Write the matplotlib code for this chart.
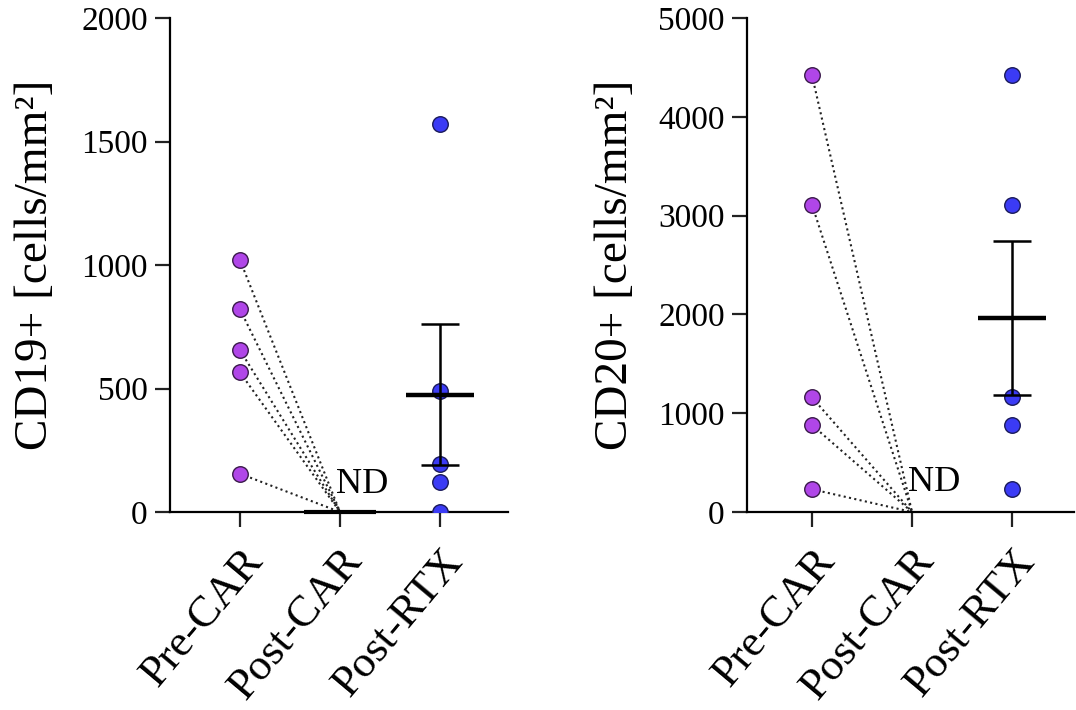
import numpy as np
import matplotlib
matplotlib.use("Agg")
import matplotlib.pyplot as plt

plt.rcParams['font.family'] = ['Liberation Serif', 'DejaVu Serif']

categories = ["Pre-CAR", "Post-CAR", "Post-RTX"]

cd19_pre = [1020, 820, 655, 565, 155]
cd19_post_car = [0, 0, 0, 0, 0]
cd19_post_rtx = [1570, 490, 195, 120, 0]

cd20_pre = [4420, 3110, 1160, 880, 230]
cd20_post_car = [0, 0, 0, 0, 0]
cd20_post_rtx = [4420, 3110, 1160, 880, 230]

panels = [
    dict(pre=cd19_pre, post=cd19_post_car, rtx=cd19_post_rtx, ymax=2000,
         yticks=[0, 500, 1000, 1500, 2000], ylabel="CD19+ [cells/mm²]",
         nd_y=110, show_postcar_mean=True),
    dict(pre=cd20_pre, post=cd20_post_car, rtx=cd20_post_rtx, ymax=5000,
         yticks=[0, 1000, 2000, 3000, 4000, 5000], ylabel="CD20+ [cells/mm²]",
         nd_y=295, show_postcar_mean=False),
]

W, H = 1076, 710
fig = plt.figure(figsize=(W / 100, H / 100), dpi=100)

axes_px = [(170, 508, -0.70, 2.68), (747, 1074, -0.65, 2.62)]
top_px, bot_px = 18, 512

purple = "#B046E8"
blue = "#3B3BF5"

for p, (lx, rx, x0, x1) in zip(panels, axes_px):
    ax = fig.add_axes([lx / W, (H - bot_px) / H, (rx - lx) / W, (bot_px - top_px) / H])
    ax.set_xlim(x0, x1)
    ax.set_ylim(0, p["ymax"])
    xs = np.arange(len(categories))

    # paired dotted lines Pre-CAR -> Post-CAR
    for a, b in zip(p["pre"], p["post"]):
        ax.plot([xs[0], xs[1]], [a, b], linestyle=(0, (1, 1.6)), color="#222222",
                lw=1.5, zorder=2)

    ax.scatter([xs[0]] * len(p["pre"]), p["pre"], s=125, color=purple,
               edgecolor="#3a1a4a", linewidth=1.0, zorder=4)
    ax.scatter([xs[2]] * len(p["rtx"]), p["rtx"], s=125, color=blue,
               edgecolor="#1a1a5a", linewidth=1.0, zorder=4)

    # mean +/- SEM for Post-RTX
    vals = np.array(p["rtx"], dtype=float)
    m = vals.mean()
    sem = vals.std(ddof=1) / np.sqrt(len(vals))
    ax.plot([xs[2] - 0.34, xs[2] + 0.34], [m, m], color="black", lw=3.2,
            solid_capstyle="butt", zorder=5)
    ax.errorbar([xs[2]], [m], yerr=[[sem], [sem]], fmt="none", ecolor="black",
                elinewidth=1.8, capsize=14, capthick=1.8, zorder=5)

    if p["show_postcar_mean"]:
        pm = np.mean(p["post"])
        ax.plot([xs[1] - 0.36, xs[1] + 0.36], [pm, pm], color="black", lw=3,
                solid_capstyle="butt", zorder=3, clip_on=False)

    ax.text(xs[1] - 0.04, p["nd_y"], "ND", fontsize=26, ha="left", va="center",
            zorder=6)

    ax.spines["top"].set_visible(False)
    ax.spines["right"].set_visible(False)
    for s in ("left", "bottom"):
        ax.spines[s].set_linewidth(1.6)

    ax.set_yticks(p["yticks"])
    ax.set_yticklabels([str(t) for t in p["yticks"]], fontsize=24)
    ax.set_xticks(xs)
    ax.set_xticklabels(categories, fontsize=32, rotation=50, ha="right",
                       rotation_mode="anchor")
    ax.tick_params(axis="both", direction="out", length=11, width=1.6,
                   color="#222222")
    ax.tick_params(axis="y", pad=5)
    ax.tick_params(axis="x", pad=10)

    ax.set_ylabel(p["ylabel"], fontsize=34)
    ax.yaxis.set_label_coords(-0.335, 0.5)

fig.savefig("out.png", dpi=100, facecolor="white")
